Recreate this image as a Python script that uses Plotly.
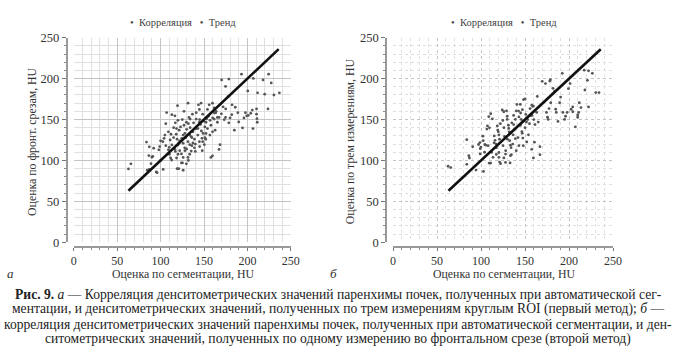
import plotly.graph_objects as go

# ---- Panel a data (segmentation HU vs frontal-slice HU) ----
a_x = [63,65.8,83.8,84.6,86.5,87,87,89,90,91,92,95,96,99,103,100,102.6,104,105,106,107,109,109,110.2,111.6,111,112.8,113,113,116.5,
       116.5,117,118.4,118.4,119,119.5,120,121,121,120,122,121.4,124,125.2,124.4,126,127,127.8,126,126,128,129.7,129.7,131.6,131.6,131.6,
       132.7,133.5,133.5,133.5,134,135.3,135.3,136.7,137.2,137.2,139,141,141,141,142.9,143.6,144.7,144.7,144.7,146.6,146,147.7,148.5,148.5,
       149,150.4,151,152.3,152.3,154,154,155,156,156.8,157.9,159.8,159.8,159.8,161.7,161.7,162.8,163.5,165.4,165.4,167.3,167.3,168.4,170.3,
       172,173.3,174.8,174.8,177.8,178.6,178.6,180,182.3,185,189,193.2,194.4,197.7,199.2,200.4,201,203.8,205.6,206.4,206.8,210.5,210.5,211,
       211.3,211.7,218,219.9,223.7,224.4,227.4,230.5,236.8,
       115,118,123,125,127,129,130,132,134,136,138,139,140,143,145,147,150,151,153,157,158,160,162,164,115,119,122,124,128,130,132,136,140,
       145,148,152,126,110,106,98,100,112,117,120,170,175,182,186,190,196]
a_y = [89.6,95.9,122.5,88,106,89,116.6,96,104,105,115,86,85,117,89,124,123,127,131,145,158.5,135,113,107.6,103,125,100.5,119,156,154.5,
       113.5,111,103,139,90,167,107.6,90,121,119,124,137,97,97,127,131,160,115.4,103.7,88,133,146.7,95.9,170,123,103.7,
       152.6,131,119.3,107.6,150.6,129,111.5,156.5,135,121.3,115.4,158.4,139,150.6,131,168,162.4,146.7,123,170,144,127,156.5,123,
       133,119.3,141,133,146.7,162.4,139,154,168,131,103.7,170,135,105.6,164.3,150.6,137,158.4,152.6,146.7,152.6,113.5,119.3,198.4,
       165.5,149.8,190.5,152.6,178,199.5,146,152,168,137,158.4,205.4,139.7,158.4,154.5,185,155,157.7,161.6,139,200.3,163,156.5,151,
       146.7,182.7,198.4,181,163,205.4,194.8,180,182.7,
       128,132,141,150,143,128,138,145,140,128,146,126,120,139,150,136,148,128,151,149,143,152,158,160,140,126,112,108,112,114,100,118,111,
       117,112,126,121,116,118,113,100,132,146,149,157,163,156,165,147,152]

# ---- Panel b data (segmentation HU vs three-ROI HU) ----
b_x = [62.6,65.6,83.8,83.8,86.1,86.8,90.5,94.3,97.2,98.7,99.1,99.9,102.1,102.8,102.5,104.3,105.4,106.6,107.3,108.8,109.5,111,112.9,109.2,
       111,113.6,114.8,115.9,117.4,117.4,118.5,118.9,119.6,120.3,120.3,120.3,121.1,122.2,124.1,125.9,124.8,126.7,127.8,125.9,127.8,128.9,
       129.7,129.7,131.1,131.5,132.6,133.4,134.1,134.5,133.4,136.4,137.1,139,139,140.1,140.8,142.7,143.1,144.6,144.6,145.7,146.4,146.8,
       147.5,148.3,150.1,150.9,151.6,152,153.9,155.7,156.5,157.6,158.7,159.5,157.6,159.5,160.6,161.3,163.2,163.9,165,166.9,166.9,169.5,
       173.2,178.1,178.8,174.4,175.5,176.2,177.3,179.2,181.8,183.7,184.8,185.5,187.4,189.3,190.4,193,194.9,196,197.8,192.3,199.3,201.2,
       202.3,204.2,207.2,204.2,217.2,222.1,222.1,226.5,230.3,234,218,220.9,211.6,213.5,209.8,209.8,210.9,
       115,122,125,128,130,136,138,142,145,148,150,153,155,158,160,117,112,108,104,99,132,135,140,143,148,126,121,137,147,133]
b_y = [92.9,91.3,125.4,95.2,105.8,103,116.8,88.2,119.5,121.9,114.4,116.4,129.7,86.6,124.2,119.5,118.7,138.3,142.2,153.6,139.9,157.1,
       150.9,96.8,96.8,103.8,121.5,124.6,115.6,107.4,142.2,137.1,135.2,131.3,109.7,103.8,98,96,161.8,159.5,148.9,129.3,107.8,103.1,97.6,
       160.7,154,150.1,143,139.1,124.2,118.7,115.6,107,105.8,131.3,143.8,150.1,126.6,160.7,168.5,160.3,153.2,168.5,143,150.1,135.2,133.2,
       127.4,174.4,175.2,156.3,146.9,122.6,131.3,163.4,154.8,167.7,166.1,166.5,113.6,103.1,122.3,143.8,158.7,178.3,146.9,116.8,107,196.7,
       194,197.1,198.7,158.7,152.8,150.1,163.4,170.5,188.1,184.6,162.6,158.7,147.7,170.5,177.5,158.7,150.1,154,158.7,206.5,187.7,194,
       162.6,165.4,141.1,159.5,210.4,209.6,165.4,206.5,183,183,186.1,197.9,170.5,164.6,155.6,152.8,158.7,
       130,145,118,112,126,120,138,128,158,148,140,150,145,155,150,120,110,118,110,108,135,146,112,118,118,140,126,155,162,97]

# Trend lines (y = x fit)
trend_x = [63, 236]
trend_y = [63, 236]

tick_vals = [0, 50, 100, 150, 200, 250]
tick_text = ["0", "50", "100", "150", "200", "250"]

legend_text = "•  Корреляция   •  Тренд"
xtitle = "Оценка по сегментации, HU"
ytitle_a = "Оценка по фронт. срезам, HU"
ytitle_b = "Оценка по трем измерениям, HU"
caption = [
    "<b>Рис. 9.</b> <i>а</i> — Корреляция денситометрических значений паренхимы почек, полученных при автоматической сег-",
    "ментации, и денситометрических значений, полученных по трем измерениям круглым ROI (первый метод); <i>б</i> —",
    "корреляция денситометрических значений паренхимы почек, полученных при автоматической сегментации, и ден-",
    "ситометрических значений, полученных по одному измерению во фронтальном срезе (второй метод)",
]

W, H = 682, 352
FONT = "Liberation Serif"

def px(x):
    return x / W

def py(y):
    return 1 - y / H

fig = go.Figure()
pt_color = "#555555"
fig.add_trace(go.Scatter(x=a_x, y=a_y, mode="markers", xaxis="x", yaxis="y",
                         marker=dict(size=2.8, color=pt_color), showlegend=False))
fig.add_trace(go.Scatter(x=trend_x, y=trend_y, mode="lines", xaxis="x", yaxis="y",
                         line=dict(color="#111", width=2.6), showlegend=False))
fig.add_trace(go.Scatter(x=b_x, y=b_y, mode="markers", xaxis="x2", yaxis="y2",
                         marker=dict(size=2.8, color=pt_color), showlegend=False))
fig.add_trace(go.Scatter(x=trend_x, y=trend_y, mode="lines", xaxis="x2", yaxis="y2",
                         line=dict(color="#111", width=2.6), showlegend=False))

def axis(domain, pos, griddash, is_x):
    return dict(domain=domain, range=[0, 250], anchor="free", position=pos,
                tickvals=tick_vals, ticktext=tick_text, ticks="outside", ticklen=3 if is_x else 4,
                tickcolor="#777", showline=True, linecolor="#999", linewidth=2,
                showgrid=True, gridcolor="#c4c4c4", gridwidth=1, griddash=griddash, zeroline=False,
                tickfont=dict(family=FONT, size=12 if is_x else 12.5, color="#333"),
                minor=dict(dtick=10, ticks="outside", ticklen=2, tickcolor="#888",
                           showgrid=True, gridcolor="#e0e0e0", griddash=griddash),
                fixedrange=True)

y_dom = [py(245), py(32)]
fig.update_layout(
    width=W, height=H, margin=dict(l=0, r=0, t=0, b=0),
    paper_bgcolor="white", plot_bgcolor="white", showlegend=False,
    font=dict(family=FONT, color="#333"),
    xaxis=axis([px(72), px(293)], py(250), "solid", True),
    yaxis=axis(y_dom, px(65), "solid", False),
    xaxis2=axis([px(397), px(621)], py(250), "dot", True),
    yaxis2=axis(y_dom, px(390), "dot", False),
)

ann = []
for cx, yt, ycx, lab, labx in [(183, ytitle_a, 30, "а", 8), (510, ytitle_b, 354, "б", 336)]:
    ann.append(dict(x=px(cx), y=py(16), text=legend_text, showarrow=False, xref="paper", yref="paper",
                    font=dict(family=FONT, size=10.5, color="#444"), xanchor="center", yanchor="middle"))
    ann.append(dict(x=px(cx), y=py(278), text=xtitle, showarrow=False, xref="paper", yref="paper",
                    font=dict(family=FONT, size=11.8, color="#333"), xanchor="center", yanchor="middle"))
    ann.append(dict(x=px(ycx), y=py(140), text=yt, showarrow=False, xref="paper", yref="paper", textangle=-90,
                    font=dict(family=FONT, size=11.8, color="#333"), xanchor="center", yanchor="middle"))
    ann.append(dict(x=px(labx), y=py(278), text="<i>" + lab + "</i>", showarrow=False, xref="paper", yref="paper",
                    font=dict(family=FONT, size=13, color="#333"), xanchor="center", yanchor="middle"))

for i, line in enumerate(caption):
    ann.append(dict(x=px(341), y=py(299.5 + 15.4 * i), text=line, showarrow=False, xref="paper", yref="paper",
                    font=dict(family=FONT, size=13.6, color="#222"), xanchor="center", yanchor="middle"))

fig.update_layout(annotations=ann)
fig.write_html("out.html")
